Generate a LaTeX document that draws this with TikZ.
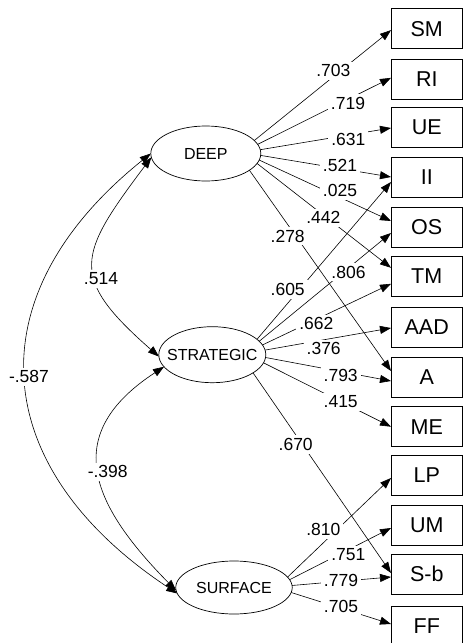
\documentclass[tikz,border=0pt]{standalone}
\usepackage{fontspec}
\setmainfont{Liberation Sans}
\usetikzlibrary{arrows.meta,shapes.geometric,calc}
\begin{document}
\begin{tikzpicture}[x=1pt,y=-1pt,
  every node/.style={outer sep=0pt},
  latent/.style={draw, ellipse, line width=0.7pt, inner sep=0pt, font=\fontsize{16}{18}\selectfont},
  obs/.style={draw, rectangle, line width=0.7pt, minimum width=71.5pt, minimum height=40pt, inner sep=0pt, font=\fontsize{21.5}{24}\selectfont},
  lab/.style={fill=white, inner sep=3pt, font=\fontsize{17.5}{20}\selectfont},
  reg/.style={line width=0.6pt, -{Triangle[length=11pt,width=8pt]}},
  cov/.style={line width=0.6pt, {Triangle[length=11pt,width=8pt]}-{Triangle[length=11pt,width=8pt]}},
]
\useasboundingbox (0,0) rectangle (463,643);

% latent variables
\node[latent, minimum width=110pt, minimum height=55pt] (deep) at (205.8,153.5) {\makebox[0pt]{DEEP}};
\node[latent, minimum width=107pt, minimum height=56pt] (strat) at (212.3,354.7) {\makebox[0pt]{STRATEGIC}};
\node[latent, minimum width=116.5pt, minimum height=53pt] (surf) at (234,587.5) {\makebox[0pt]{SURFACE}};

% observed variables
\node[obs] (SM)  at (426.75,28.65) {SM};
\node[obs] (RI)  at (426.75,79.15) {RI};
\node[obs] (UE)  at (426.75,127.3) {UE};
\node[obs] (II)  at (426.75,177.3) {II};
\node[obs] (OS)  at (426.75,227.5) {OS};
\node[obs] (TM)  at (426.75,276.3) {TM};
\node[obs] (AAD) at (426.75,327.5) {AAD};
\node[obs] (A)   at (426.75,377.5) {A};
\node[obs] (ME)  at (426.75,426.7) {ME};
\node[obs] (LP)  at (426.75,475) {LP};
\node[obs] (UM)  at (426.75,525.7) {UM};
\node[obs] (Sb)  at (426.75,574.3) {S-b};
\node[obs] (FF)  at (426.75,626) {FF};

% DEEP loadings
\draw[reg] (deep.15.6)  -- ($(SM.west)+(0,1.5)$);
\draw[reg] (deep.10.1)  -- ($(RI.west)+(0,-1.3)$);
\draw[reg] (deep.4.7)   -- ($(UE.west)+(0,0.7)$);
\draw[reg] (deep.-2.3)  -- ($(II.west)+(0,-0.3)$);
\draw[reg] (deep.-7)    -- ($(OS.west)+(0,-6.5)$);
\draw[reg] (deep.-11.7) -- ($(TM.west)+(0,-8.5)$);
\draw[reg] (deep.-21.2) -- ($(A.west)+(0,-6.5)$);

% STRATEGIC loadings
\draw[reg] (strat.19.6)  -- ($(II.west)+(0,4.7)$);
\draw[reg] (strat.16.4)  -- ($(OS.west)+(0,5.5)$);
\draw[reg] (strat.11.8)  -- ($(TM.west)+(0,7.5)$);
\draw[reg] (strat.5.1)   -- ($(AAD.west)+(0,0.5)$);
\draw[reg] (strat.-3.9)  -- ($(A.west)+(0,3.5)$);
\draw[reg] (strat.-9.6)  -- ($(ME.west)+(0,0)$);
\draw[reg] (strat.-24.4) -- ($(Sb.west)+(0,-1.3)$);

% SURFACE loadings
\draw[reg] (surf.11.6) -- ($(LP.west)+(0,3)$);
\draw[reg] (surf.8.3)  -- ($(UM.west)+(0,2.3)$);
\draw[reg] (surf.2.5)  -- ($(Sb.west)+(0,2.7)$);
\draw[reg] (surf.-5.1) -- ($(FF.west)+(0,-2)$);

% covariances
\draw[cov] (deep.184) .. controls (78.1,255) and (67.7,276.6) .. (strat.182);
\draw[cov] (deep.180) .. controls (-28,297) and (-11.4,468.6) .. (surf.186);
\draw[cov] (strat.194) .. controls (61.1,434.1) and (89.75,503) .. (surf.183);

% labels
\node[lab] (l1)  at (333.3,70.7)  {.703};
\node[lab] (l2)  at (348,103.3)   {.719};
\node[lab] (l3)  at (348.3,139)   {.631};
\node[lab] (l4)  at (340,165.7)   {.521};
\node[lab] (l5)  at (340,190.7)   {.025};
\node[lab] (l6)  at (323.3,217.7) {.442};
\node[lab] (l7)  at (287.7,236)   {.278};
\node[lab] (l8)  at (287.7,289.5) {.605};
\node[lab] (l9)  at (348.5,272)   {.806};
\node[lab] (l10) at (316.3,323.7) {.662};
\node[lab] (l11) at (323.7,348.7) {.376};
\node[lab] (l12) at (340.7,375.3) {.793};
\node[lab] (l13) at (340.7,401.7) {.415};
\node[lab] (l14) at (295.7,444.3) {.670};
\node[lab] (l15) at (323.3,529.7) {.810};
\node[lab] (l16) at (348.3,554.7) {.751};
\node[lab] (l17) at (341,580.3)   {.779};
\node[lab] (l18) at (341,606.3)   {.705};
\node[lab] (c1)  at (101,278.7)   {.514};
\node[lab] (c2)  at (29,376.7)    {-.587};
\node[lab] (c3)  at (107.7,471.7) {-.398};
\end{tikzpicture}
\end{document}
